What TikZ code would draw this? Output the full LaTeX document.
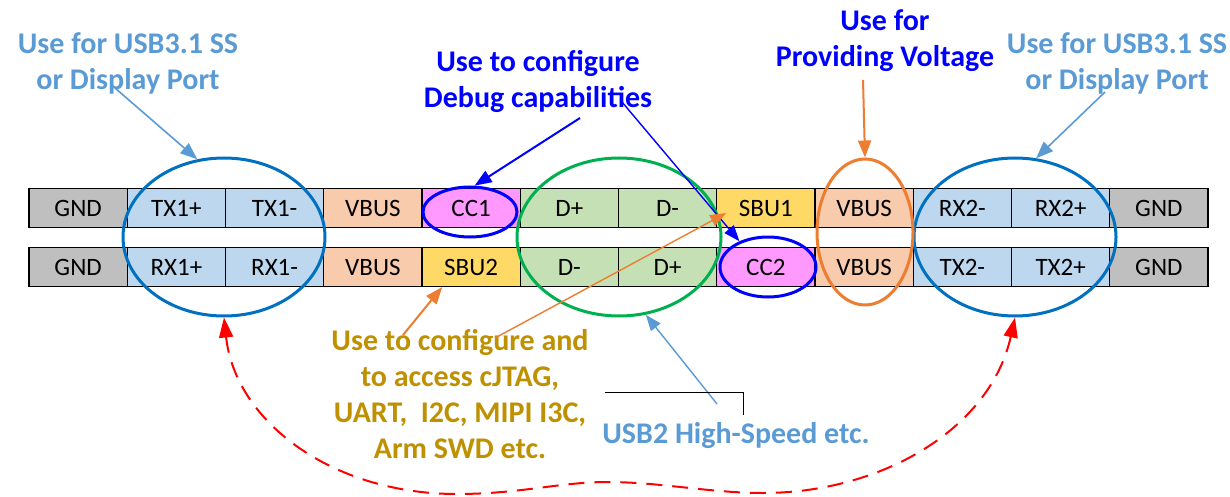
\documentclass[tikz,border=0pt]{standalone}
\usepackage{fontspec}
\setmainfont{Carlito}
\usetikzlibrary{arrows.meta,shapes.geometric}
\definecolor{gndc}{HTML}{BFBFBF}
\definecolor{usbc}{HTML}{BDD7EE}
\definecolor{vbc}{HTML}{F8CBAD}
\definecolor{ccc}{HTML}{FF99FF}
\definecolor{dc}{HTML}{C5E0B4}
\definecolor{sbc}{HTML}{FFD966}
\definecolor{ltblue}{HTML}{5B9BD5}
\definecolor{ringblue}{HTML}{0070C0}
\definecolor{pblue}{HTML}{0000FF}
\definecolor{gold}{HTML}{BF9000}
\definecolor{orng}{HTML}{ED7D31}
\definecolor{grn}{HTML}{00B050}
\definecolor{rd}{HTML}{FF0000}
\tikzset{
  cell/.style={draw=black, line width=1.2pt, minimum width=98.25pt, minimum height=39pt, inner sep=0pt, font=\fontsize{25}{28}\selectfont},
  ring/.style={ellipse, line width=3pt, inner sep=0pt},
  lbl/.style={align=center, inner sep=0pt, font=\bfseries\fontsize{30}{36}\selectfont},
  arr/.style={line width=2pt, -{Triangle[length=17pt,width=13pt]}},
  thinarr/.style={line width=1.4pt, -{Triangle[length=16pt,width=12pt]}},
}
\begin{document}
\begin{tikzpicture}[x=1pt,y=-1pt]
\useasboundingbox[fill=white] (0,0) rectangle (1230,497);
% top row
\foreach \lab/\col [count=\i] in {GND/gndc, TX1+/usbc, TX1-/usbc, VBUS/vbc, CC1/ccc, D+/dc, D-/dc, SBU1/sbc, VBUS/vbc, RX2-/usbc, RX2+/usbc, GND/gndc}
  \node[cell, fill=\col] (t\i) at ({29+98.25*(\i-0.5)},208) {\lab};
% bottom row
\foreach \lab/\col [count=\i] in {GND/gndc, RX1+/usbc, RX1-/usbc, VBUS/vbc, SBU2/sbc, D-/dc, D+/dc, CC2/ccc, VBUS/vbc, TX2-/usbc, TX2+/usbc, GND/gndc}
  \node[cell, fill=\col] (b\i) at ({29+98.25*(\i-0.5)},267) {\lab};
% rings
\node[ring, draw=ringblue, minimum width=202pt, minimum height=158pt] (lc) at (224,237) {};
\node[ring, draw=ringblue, minimum width=202pt, minimum height=158pt] (rc) at (1015,237) {};
\node[ring, draw=grn, minimum width=204pt, minimum height=158pt] (gc) at (619,237) {};
\node[ring, draw=orng, minimum width=96pt, minimum height=146pt] (vc) at (865,232) {};
\node[ring, draw=pblue, minimum width=94pt, minimum height=50pt] (c1) at (470,212) {};
\node[ring, draw=pblue, minimum width=96pt, minimum height=60pt] (c2) at (768,267) {};
% labels (anchor base = baseline of last line)
\node[lbl, text=ltblue, anchor=base] (tl) at (128,90) {Use for USB3.1 SS\\or Display Port};
\node[lbl, text=ltblue, anchor=base] (tr) at (1117,90) {Use for USB3.1 SS\\or Display Port};
\node[lbl, text=pblue, anchor=base] (dbg) at (538,108) {Use to configure\\Debug capabilities};
\node[lbl, text=pblue, anchor=base] (pv) at (885,67) {Use for\\Providing Voltage};
\node[lbl, text=gold, anchor=base] (sb) at (460,458) {Use to configure and\\to access cJTAG,\\UART,\ \ I2C, MIPI I3C,\\Arm SWD etc.};
\node[lbl, text=ltblue, anchor=base] (hs) at (736,443) {USB2 High-Speed etc.};
% free ends
\coordinate (tlp) at (115,88);
\coordinate (trp) at (1105,92);
\coordinate (dbg1) at (580,118);
\coordinate (dbg2) at (622,102);
\coordinate (pvp) at (863,80);
\coordinate (sb1) at (403,335);
\coordinate (sb2) at (495,338);
\coordinate (hsp) at (717,404);
\coordinate (k1) at (605,392);
\coordinate (k2) at (743,392);
\coordinate (k3) at (743,415);
% arrows
\draw[arr, ltblue, line width=1.6pt] (tlp) -- (lc.109);
\draw[arr, ltblue, line width=1.6pt] (trp) -- (rc.75);
\draw[arr, pblue] (dbg1) -- (c1.80);
\draw[thinarr, pblue] (dbg2) -- (c2.138);
\draw[arr, orng] (pvp) -- (vc.north);
\draw[arr, orng] (sb1) -- ([xshift=-29pt]b5.south);
\draw[thinarr, orng] (sb2) -- ([xshift=10pt,yshift=-5pt]t8.west);
\draw[thinarr, ltblue] (hsp) -- (gc.289);
\draw[black, line width=1pt] (k1) -- (k2) -- (k3);
\draw[rd, line width=2pt, dash pattern=on 16pt off 10pt, {Triangle[length=20pt,width=14pt]}-{Triangle[length=20pt,width=14pt]}]
  (lc.south) .. controls (235,420) and (330,494) .. (457,494)
  .. controls (520,494) and (560,482) .. (607,482)
  .. controls (660,482) and (710,493) .. (763,493)
  .. controls (880,493) and (990,430) .. (rc.south);
\end{tikzpicture}
\end{document}
